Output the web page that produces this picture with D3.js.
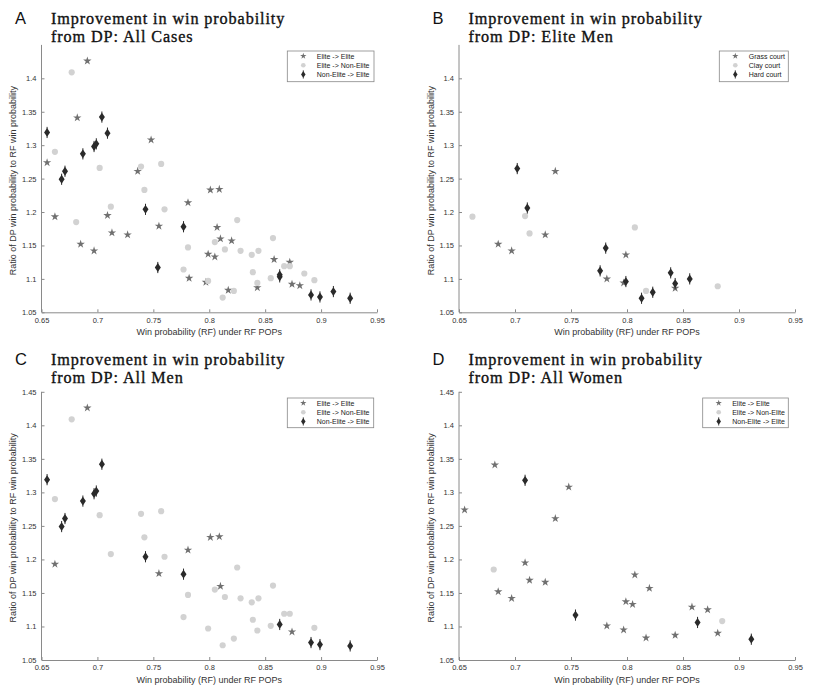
<!DOCTYPE html>
<html>
<head>
<meta charset="utf-8">
<script src="https://cdn.jsdelivr.net/npm/d3@7"></script>
<style>
  body { margin: 0; background: #fff; }
  svg { display: block; }
</style>
</head>
<body>
<div id="plot"></div>
<script>
// values: [win prob (RF), ratio DP/RF]
var menEliteElite = [[0.691,1.426],[0.662,1.193],[0.755,1.179],[0.781,1.214],[0.801,1.233],[0.809,1.234],[0.810,1.160],[0.874,1.092]];
var menEliteNon = [[0.677,1.409],[0.662,1.290],[0.702,1.266],[0.739,1.268],[0.757,1.272],[0.742,1.233],[0.712,1.208],[0.760,1.204],
  [0.781,1.147],[0.777,1.114],[0.799,1.097],[0.805,1.155],[0.814,1.144],[0.825,1.188],[0.828,1.142],[0.838,1.136],[0.844,1.142],
  [0.857,1.161],[0.839,1.110],[0.843,1.094],[0.855,1.101],[0.867,1.119],[0.872,1.119],[0.894,1.098],[0.822,1.082],[0.812,1.072]];
var menNonElite = [[0.655,1.319],[0.704,1.342],[0.697,1.298],[0.699,1.302],[0.687,1.287],[0.671,1.261],[0.668,1.249],[0.743,1.204],
  [0.777,1.178],[0.863,1.103],[0.891,1.076],[0.899,1.073],[0.926,1.071]];

var womenEliteElite = [[0.682,1.341],[0.655,1.274],[0.748,1.308],[0.736,1.261],[0.709,1.195],[0.713,1.169],[0.727,1.166],[0.685,1.152],
  [0.697,1.142],[0.782,1.101],[0.797,1.095],[0.799,1.137],[0.807,1.177],[0.820,1.157],[0.805,1.133],[0.817,1.083],[0.843,1.087],
  [0.858,1.129],[0.872,1.125],[0.881,1.090]];
var womenEliteNon = [[0.681,1.185],[0.885,1.108]];
var womenNonElite = [[0.709,1.318],[0.754,1.117],[0.863,1.106],[0.911,1.081]];

var grassCourt = [[0.736,1.261],[0.685,1.152],[0.697,1.142],[0.727,1.166],[0.782,1.100],[0.797,1.094],[0.799,1.136],[0.843,1.086]];
var clayCourt = [[0.662,1.193],[0.709,1.194],[0.713,1.168],[0.807,1.177],[0.817,1.082],[0.881,1.089]];
var hardCourt = [[0.702,1.265],[0.711,1.206],[0.781,1.146],[0.776,1.112],[0.799,1.096],[0.813,1.071],[0.823,1.080],[0.839,1.109],
  [0.843,1.093],[0.856,1.100]];

var groupNames = ["Elite -> Elite", "Elite -> Non-Elite", "Non-Elite -> Elite"];
var courtNames = ["Grass court", "Clay court", "Hard court"];
var xTicks = [0.65, 0.7, 0.75, 0.8, 0.85, 0.9, 0.95];
var yTicksTop = [1.05, 1.1, 1.15, 1.2, 1.25, 1.3, 1.35, 1.4];
var yTicksBottom = [1.05, 1.1, 1.15, 1.2, 1.25, 1.3, 1.35, 1.4, 1.45];

var shapes = ["star", "circle", "diamond"];
var colors = {star: "#707070", circle: "#d2d2d2", diamond: "#2a2a2a"};
var sans = "'Liberation Sans', Arial, Helvetica, sans-serif";
var serif = "'Liberation Serif', 'Times New Roman', serif";

var panels = [
  {letter: "A", sub: "from DP: All Cases", left: 41.5, right: 377, top: 44.9, bottom: 312.3, titleY: 23.5, yTicks: yTicksTop,
   series: [menEliteElite.concat(womenEliteElite), menEliteNon.concat(womenEliteNon), menNonElite.concat(womenNonElite)],
   names: groupNames, legend: {x: 287.3, y: 51, w: 86.7, h: 30.7}},
  {letter: "B", sub: "from DP: Elite Men", left: 459, right: 795, top: 44.9, bottom: 312.3, titleY: 23.5, yTicks: yTicksTop,
   series: [grassCourt, clayCourt, hardCourt], names: courtNames, legend: {x: 719.3, y: 51, w: 69, h: 30.7}},
  {letter: "C", sub: "from DP: All Men", left: 41.5, right: 377, top: 391.8, bottom: 660, titleY: 364.5, yTicks: yTicksBottom,
   series: [menEliteElite, menEliteNon, menNonElite], names: groupNames, legend: {x: 287.3, y: 398, w: 86.4, h: 29.7}},
  {letter: "D", sub: "from DP: All Women", left: 459, right: 795, top: 391.8, bottom: 660, titleY: 364.5, yTicks: yTicksBottom,
   series: [womenEliteElite, womenEliteNon, womenNonElite], names: groupNames, legend: {x: 702.7, y: 398, w: 85.6, h: 29.7}}
];

var svg = d3.select("div#plot").append("svg")
  .attr("width", 830)
  .attr("height", 687);

var starPath = d3.symbol().type(d3.symbolStar).size(22)();
var circlePath = d3.symbol().type(d3.symbolCircle).size(30)();
var diamondPath = "M0,-4.4L3,0L0,4.4L-3,0Z";

function addMarker(g, shape, x, y, k) {
  k = k || 1;
  var t = "translate(" + x + "," + y + ") scale(" + k + ")";
  if (shape === "star") {
    g.append("path").attr("d", starPath).attr("transform", t).attr("fill", colors.star);
  } else if (shape === "circle") {
    g.append("path").attr("d", circlePath).attr("transform", t).attr("fill", colors.circle);
  } else {
    var d = g.append("g").attr("transform", t);
    d.append("line").attr("x1", 0).attr("x2", 0).attr("y1", -5.6).attr("y2", 5.6)
      .attr("stroke", colors.diamond).attr("stroke-width", 1);
    d.append("path").attr("d", diamondPath).attr("fill", colors.diamond);
  }
}

panels.forEach(function(p) {
  var x = d3.scaleLinear().domain([0.65, 0.95]).range([p.left, p.right]);
  var y = d3.scaleLinear().domain([1.05, 1.45]).range([p.bottom, p.top]);
  var g = svg.append("g");

  // panel letter and two-line title
  g.append("text").attr("x", p.left - 26.5).attr("y", p.titleY)
    .attr("font-family", sans).attr("font-size", 16.5).attr("fill", "#111").text(p.letter);
  [["Improvement in win probability", 0], [p.sub, 18]].forEach(function(t) {
    g.append("text").attr("x", p.left + 9.5).attr("y", p.titleY + t[1])
      .attr("font-family", serif).attr("font-size", 16.2).attr("letter-spacing", 0.9).attr("fill", "#111")
      .attr("stroke", "#111").attr("stroke-width", 0.35).text(t[0]);
  });

  // axes, ticks pointing in
  var xAxis = g.append("g").attr("transform", "translate(0," + p.bottom + ")")
    .call(d3.axisBottom(x).tickValues(xTicks).tickSizeInner(-3).tickSizeOuter(0).tickPadding(5)
      .tickFormat(d3.format("")));
  var yAxis = g.append("g").attr("transform", "translate(" + p.left + ",0)")
    .call(d3.axisLeft(y).tickValues(p.yTicks).tickSizeInner(-3).tickSizeOuter(0).tickPadding(5)
      .tickFormat(d3.format("")));
  [xAxis, yAxis].forEach(function(a) {
    a.select(".domain").attr("stroke", "#8a8a8a");
    a.selectAll(".tick line").attr("stroke", "#8a8a8a");
    a.selectAll(".tick text").attr("font-family", sans).attr("font-size", 7.5).attr("fill", "#333");
  });
  yAxis.select(".domain").attr("d", "M0," + p.bottom + "V" + p.top);

  g.append("text").attr("x", (p.left + p.right) / 2).attr("y", p.bottom + 23)
    .attr("text-anchor", "middle").attr("font-family", sans).attr("font-size", 9).attr("fill", "#333")
    .text("Win probability (RF) under RF POPs");
  g.append("text").attr("transform", "translate(" + (p.left - 25.5) + "," + ((p.top + p.bottom) / 2 + 2) + ") rotate(-90)")
    .attr("text-anchor", "middle").attr("font-family", sans).attr("font-size", 9).attr("fill", "#333")
    .text("Ratio of DP win probability to RF win probability");

  // points: stars, then circles, then diamonds on top
  p.series.forEach(function(s, i) {
    var layer = g.append("g").attr("class", "series-" + shapes[i]);
    s.forEach(function(d) { addMarker(layer, shapes[i], x(d[0]), y(d[1])); });
  });

  // legend
  var L = p.legend;
  var lg = g.append("g");
  lg.append("rect").attr("x", L.x).attr("y", L.y).attr("width", L.w).attr("height", L.h)
    .attr("fill", "#fff").attr("stroke", "#888").attr("stroke-width", 0.8);
  p.names.forEach(function(n, i) {
    var ry = L.y + 5 + i * 9.2;
    addMarker(lg, shapes[i], L.x + 16, ry, 0.75);
    lg.append("text").attr("x", L.x + 29.5).attr("y", ry + 2.5)
      .attr("font-family", sans).attr("font-size", 7).attr("fill", "#222").text(n);
  });
});
</script>
</body>
</html>
